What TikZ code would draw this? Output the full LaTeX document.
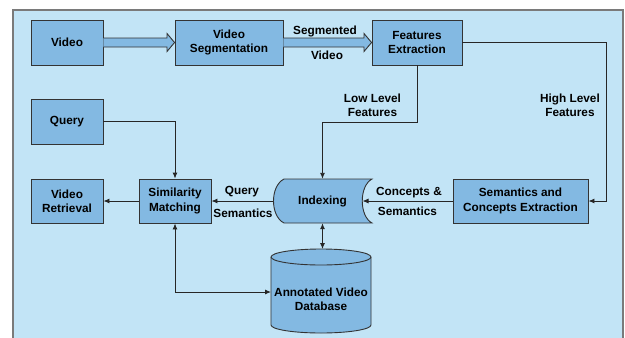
\documentclass[tikz,border=0pt]{standalone}
\usepackage{fontspec}
\setmainfont{Liberation Sans}
\usetikzlibrary{arrows.meta}
\definecolor{bgblue}{HTML}{C2E4F6}
\definecolor{boxblue}{HTML}{83B9E2}
\definecolor{edge}{HTML}{333333}
\definecolor{framegray}{HTML}{7A7A7A}

\begin{document}
\begin{tikzpicture}[x=1bp,y=-1bp,
  every node/.style={font=\fontsize{11.8bp}{14.3bp}\selectfont\bfseries, align=center, inner sep=0pt},
  blk/.style={draw=edge, fill=boxblue, line width=0.9bp, minimum height=45bp},
  shapeline/.style={draw=edge, fill=boxblue, line width=0.9bp},
  lnk/.style={draw=black!85, line width=0.9bp, -{Latex[length=6bp,width=5bp]}},
  dlnk/.style={draw=black!85, line width=0.9bp, {Latex[length=6bp,width=5bp]}-{Latex[length=6bp,width=5bp]}}]
\useasboundingbox (0,0) rectangle (625,337);
\fill[white] (0,0) rectangle (625,337);
% outer panel
\draw[draw=framegray, fill=bgblue, line width=1.5bp] (13,345) -- (13,10) -- (623,10) -- (623,345);

% process boxes
\node[blk, minimum width=72bp] (video) at (67,42.5) {Video};
\node[blk, minimum width=108bp] (seg) at (229,42.5) {Video\\Segmentation};
\node[blk, minimum width=90bp] (feat) at (417,42.5) {Features\\Extraction};
\node[blk, minimum width=72bp] (query) at (67,121.5) {Query};
\node[blk, minimum width=72bp, minimum height=44bp] (ret) at (67,201) {Video\\Retrieval};
\node[blk, minimum width=72bp, minimum height=44bp] (sim) at (175,201) {Similarity\\Matching};
\node[blk, minimum width=135bp, minimum height=44bp] (sem) at (520.5,201) {Semantics and\\Concepts Extraction};

% stored-data shape for indexing
\path[shapeline] (284,179) -- (372,179) .. controls (359,186) and (359,216) .. (372,223)
  -- (284,223) .. controls (270,216) and (270,186) .. (284,179) -- cycle;
\node[minimum width=99bp, minimum height=44bp] (idx) at (322.5,201) {Indexing};
\coordinate (idxr) at (362.5,201);

% database cylinder
\path[shapeline] (271,257) -- (271,325)
  .. controls (271,329.4) and (293.4,333) .. (321,333)
  .. controls (348.6,333) and (371,329.4) .. (371,325) -- (371,257)
  .. controls (371,252.6) and (348.6,249) .. (321,249)
  .. controls (293.4,249) and (271,252.6) .. (271,257) -- cycle;
\draw[draw=edge, line width=0.9bp] (271,257) .. controls (271,261.4) and (293.4,265) .. (321,265)
  .. controls (348.6,265) and (371,261.4) .. (371,257);
\node[minimum width=100bp, minimum height=68bp] (db) at (321,299) {Annotated Video\\Database};
\coordinate (dbin) at (271,292);
\coordinate (dbtop) at (322.5,249);

% block arrows
\filldraw[draw=edge, fill=boxblue, line width=0.9bp]
  (video.east |- 0,38) -- (167,38) -- (167,33.5) -- (seg.west) -- (167,51.5) -- (167,47) -- (video.east |- 0,47);
\filldraw[draw=edge, fill=boxblue, line width=0.9bp]
  (seg.east |- 0,38) -- (364,38) -- (364,33.5) -- (feat.west) -- (364,51.5) -- (364,47) -- (seg.east |- 0,47);
\node at (325,31) {Segmented};
\node at (327,55) {Video};

% connectors
\coordinate (lowbend) at (322.5,122);
\coordinate (highbend) at (606,201);
\draw[lnk] (feat.south) |- (lowbend) -- (idx.north);
\draw[lnk] (feat.east) -| (highbend) -- (sem.east);
\draw[lnk] (sem.west) -- (idxr);
\draw[lnk] (idx.west) -- (sim.east);
\draw[lnk] (query.east) -| (sim.north);
\draw[lnk] (sim.west) -- (ret.east);
\draw[dlnk] (sim.south) |- (dbin);
\draw[dlnk] (idx.south) -- (dbtop);

% connector labels
\node at (372.5,105) {Low Level\\Features};
\node at (570,105) {High Level\\Features};
\node at (409,193) {Concepts \&};
\node at (407.5,211) {Semantics};
\node at (242,192) {Query};
\node at (243,213) {Semantics};
\end{tikzpicture}
\end{document}
